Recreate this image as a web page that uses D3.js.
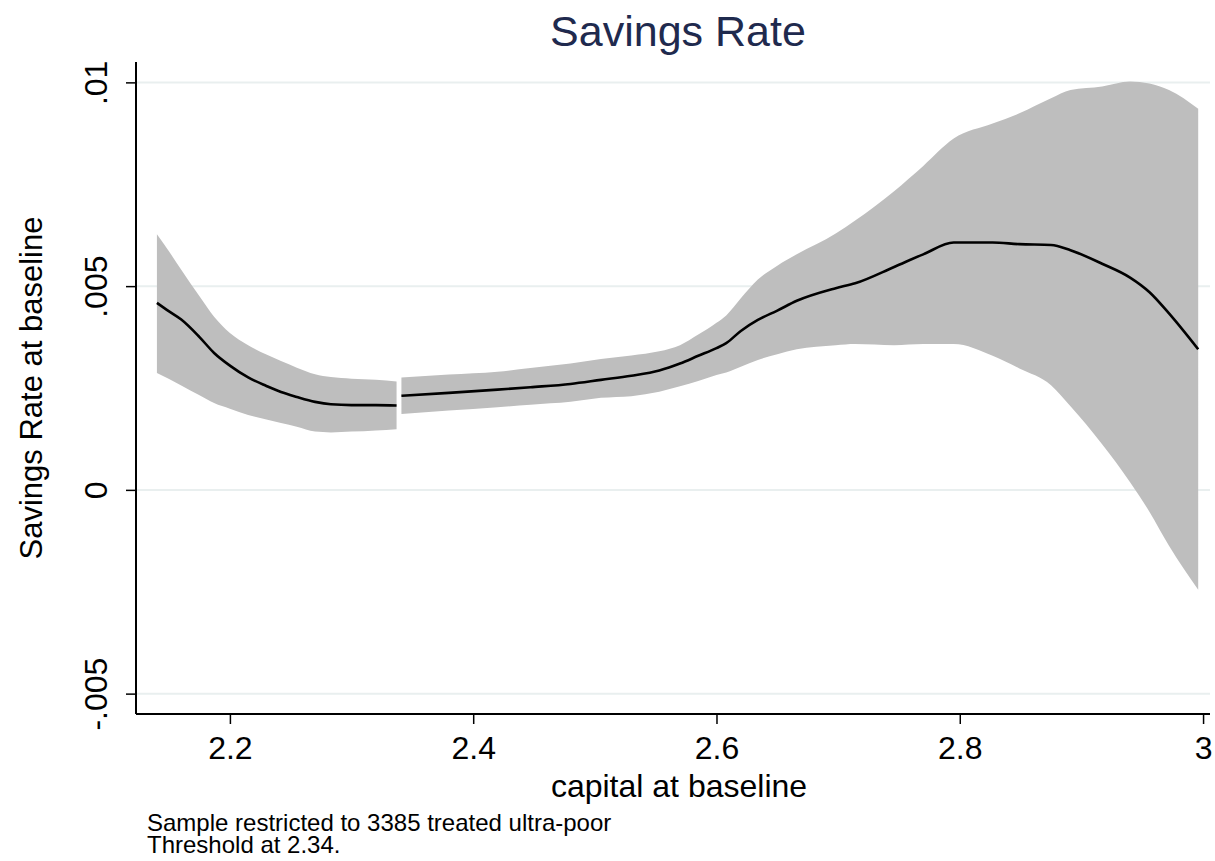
<!DOCTYPE html>
<html>
<head>
<meta charset="utf-8">
<script src="https://cdn.jsdelivr.net/npm/d3@7"></script>
<style>
  body { margin: 0; background: #fff; }
  text { font-family: "Liberation Sans", Arial, Helvetica, sans-serif; }
</style>
</head>
<body>
<svg id="chart" width="1215" height="861"></svg>
<script>
// left of threshold (2.34)
var leftX   = [2.140, 2.150, 2.160, 2.175, 2.187, 2.200, 2.215, 2.230, 2.242, 2.255, 2.270, 2.283, 2.300, 2.320, 2.337];
var leftFit = [0.00459, 0.00438, 0.00418, 0.00375, 0.00336, 0.00305, 0.00276, 0.00255, 0.00240, 0.00228, 0.00216, 0.00210, 0.00208, 0.00208, 0.00207];
var leftHi  = [0.00627, 0.00585, 0.00540, 0.00475, 0.00425, 0.00385, 0.00355, 0.00332, 0.00316, 0.00300, 0.00284, 0.00277, 0.00273, 0.00270, 0.00266];
var leftLo  = [0.00287, 0.00272, 0.00256, 0.00232, 0.00213, 0.00199, 0.00184, 0.00173, 0.00164, 0.00155, 0.00143, 0.00141, 0.00143, 0.00146, 0.00149];

// right of threshold
var rightX   = [2.341, 2.380, 2.420, 2.447, 2.480, 2.505, 2.530, 2.553, 2.570, 2.585, 2.600, 2.608, 2.620, 2.634, 2.650, 2.666, 2.698, 2.714, 2.746, 2.770, 2.795, 2.827, 2.849, 2.875, 2.891, 2.917, 2.940, 2.956, 2.972, 2.996];
var rightFit = [0.00231, 0.00238, 0.00246, 0.00252, 0.00260, 0.00270, 0.00280, 0.00293, 0.00310, 0.00329, 0.00348, 0.00360, 0.00390, 0.00417, 0.00440, 0.00464, 0.00495, 0.00507, 0.00547, 0.00578, 0.00607, 0.00607, 0.00603, 0.00601, 0.00588, 0.00555, 0.00521, 0.00485, 0.00433, 0.00345];
var rightHi  = [0.00276, 0.00283, 0.00290, 0.00299, 0.00310, 0.00321, 0.00330, 0.00340, 0.00355, 0.00381, 0.00410, 0.00428, 0.00470, 0.00516, 0.00550, 0.00578, 0.00629, 0.00661, 0.00733, 0.00795, 0.00862, 0.00899, 0.00924, 0.00961, 0.00981, 0.00990, 0.01002, 0.00997, 0.00981, 0.00935];
var rightLo  = [0.00186, 0.00195, 0.00203, 0.00209, 0.00216, 0.00226, 0.00230, 0.00241, 0.00254, 0.00267, 0.00282, 0.00288, 0.00302, 0.00319, 0.00333, 0.00345, 0.00355, 0.00358, 0.00355, 0.00358, 0.00358, 0.00329, 0.00298, 0.00257, 0.00205, 0.00112, 0.00019, -0.00054, -0.00137, -0.00245];

var xTicks = [2.2, 2.4, 2.6, 2.8, 3];
var xTickLabels = ["2.2", "2.4", "2.6", "2.8", "3"];
var yTicks = [-0.005, 0, 0.005, 0.01];
var yTickLabels = ["-.005", "0", ".005", ".01"];

var titleText = "Savings Rate";
var xTitle = "capital at baseline";
var yTitle = "Savings Rate at baseline";
var notes = ["Sample restricted to 3385 treated ultra-poor", "Threshold at 2.34."];

var svg = d3.select("#chart");
var pLeft = 136, pRight = 1210, pTop = 62, pBottom = 714;

var x = d3.scaleLinear().domain([2.1228, 3.0057]).range([pLeft, pRight]);
var y = d3.scaleLinear().domain([-0.0055, 0.0105]).range([pBottom, pTop]);

// grid
svg.append("g")
  .selectAll("line")
  .data(yTicks)
  .enter().append("line")
  .attr("x1", pLeft + 1)
  .attr("x2", pRight)
  .attr("y1", function(d){ return y(d); })
  .attr("y2", function(d){ return y(d); })
  .style("stroke", "#e9efef")
  .style("stroke-width", 2);

function seg(xs, fit, hi, lo){
  var pts = xs.map(function(v, i){ return {x: v, f: fit[i], h: hi[i], l: lo[i]}; });
  var area = d3.area()
    .x(function(d){ return x(d.x); })
    .y0(function(d){ return y(d.l); })
    .y1(function(d){ return y(d.h); })
    .curve(d3.curveMonotoneX);
  var line = d3.line()
    .x(function(d){ return x(d.x); })
    .y(function(d){ return y(d.f); })
    .curve(d3.curveMonotoneX);
  svg.append("path").datum(pts).attr("d", area).style("fill", "#bebebe");
  svg.append("path").datum(pts).attr("d", line)
    .style("fill", "none").style("stroke", "#000").style("stroke-width", 2.6);
}
seg(leftX, leftFit, leftHi, leftLo);
seg(rightX, rightFit, rightHi, rightLo);

// x axis
var xAxis = d3.axisBottom(x).tickValues(xTicks).tickSize(10).tickPadding(12)
  .tickFormat(function(d, i){ return xTickLabels[i]; });
var gx = svg.append("g").attr("transform", "translate(0," + pBottom + ")").call(xAxis);
gx.select(".domain").attr("d", "M" + pLeft + ",0H" + pRight).style("stroke", "#000").style("stroke-width", 2);
gx.selectAll(".tick line").style("stroke", "#000").style("stroke-width", 1.5);
gx.selectAll(".tick text").style("font-size", "32px").style("fill", "#000")
  .attr("font-family", "Liberation Sans, Arial, sans-serif");

// y axis
var yAxis = d3.axisLeft(y).tickValues(yTicks).tickSize(10).tickPadding(0)
  .tickFormat(function(d, i){ return yTickLabels[i]; });
var gy = svg.append("g").attr("transform", "translate(" + pLeft + ",0)").call(yAxis);
gy.select(".domain").attr("d", "M0," + pTop + "V" + pBottom).style("stroke", "#000").style("stroke-width", 2);
gy.selectAll(".tick line").style("stroke", "#000").style("stroke-width", 1.5);
gy.selectAll(".tick text")
  .attr("x", 0).attr("dy", 0)
  .attr("transform", "translate(-29,0) rotate(-90)")
  .attr("text-anchor", "middle")
  .style("font-size", "32px").style("fill", "#000")
  .attr("font-family", "Liberation Sans, Arial, sans-serif");

// titles
svg.append("text")
  .attr("x", 678).attr("y", 46)
  .attr("text-anchor", "middle")
  .attr("fill", "#1f2a4e")
  .attr("font-size", 43)
  .text(titleText);

svg.append("text")
  .attr("x", 679).attr("y", 797)
  .attr("text-anchor", "middle")
  .attr("font-size", 32)
  .text(xTitle);

svg.append("text")
  .attr("transform", "translate(42," + y(0.0025) + ") rotate(-90)")
  .attr("text-anchor", "middle")
  .attr("font-size", 31)
  .text(yTitle);

notes.forEach(function(n, i){
  svg.append("text")
    .attr("x", 147).attr("y", 831 + i * 22)
    .attr("font-size", 24)
    .text(n);
});
</script>
</body>
</html>
